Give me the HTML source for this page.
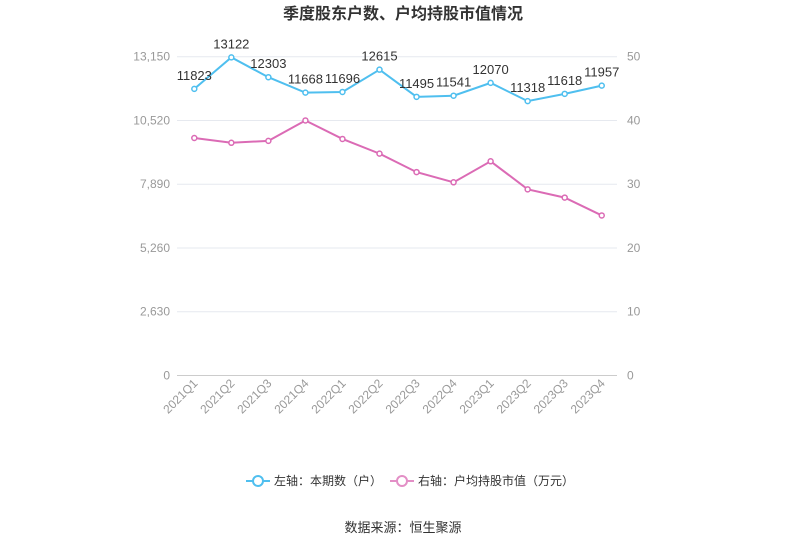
<!DOCTYPE html>
<html><head><meta charset="utf-8"><style>
body{margin:0;background:#fff;font-family:"Liberation Sans","Noto Sans CJK SC",sans-serif;}
svg text{font-family:"Liberation Sans","Noto Sans CJK SC",sans-serif;}
</style></head><body>
<svg id="c" width="807" height="546">
<text x="403" y="19" text-anchor="middle" font-size="16" font-weight="bold" fill="#333">季度股东户数、户均持股市值情况</text>
<g id="grid"></g><g id="axes"></g><g id="series"></g>
<g>
<g><line x1="246" y1="481" x2="270" y2="481" stroke="#4fbfef" stroke-width="2"/><circle cx="258" cy="481" r="5" fill="#fff" stroke="#4fbfef" stroke-width="2"/><text x="274" y="485" font-size="12" fill="#333">左轴：本期数（户）</text></g>
<g><line x1="390" y1="481" x2="414" y2="481" stroke="#e38fc6" stroke-width="2"/><circle cx="402" cy="481" r="5" fill="#fff" stroke="#e38fc6" stroke-width="2"/><text x="418" y="485" font-size="12" fill="#333">右轴：户均持股市值（万元）</text></g>
</g>
<text x="403" y="532" text-anchor="middle" font-size="13" fill="#333">数据来源：恒生聚源</text>
</svg>
<script>
const categories=["2021Q1","2021Q2","2021Q3","2021Q4","2022Q1","2022Q2","2022Q3","2022Q4","2023Q1","2023Q2","2023Q3","2023Q4"];
const holders=[11823,13122,12303,11668,11696,12615,11495,11541,12070,11318,11618,11957];
const avgValue=[37.25,36.5,36.8,40.0,37.1,34.8,31.9,30.3,33.6,29.2,27.9,25.1];
const leftTicks=[0,2630,5260,7890,10520,13150];
const rightTicks=[0,10,20,30,40,50];
const NS="http://www.w3.org/2000/svg";
const x0=194.3,dx=37.04,yB=375.5,yT=56.7;
const xs=i=>x0+i*dx;
const yL=v=>yB-(v/13150)*(yB-yT);
const yR=v=>yB-(v/50)*(yB-yT);
function mk(t,a,p){const e=document.createElementNS(NS,t);for(const k in a)e.setAttribute(k,a[k]);p.appendChild(e);return e;}
const grid=document.getElementById('grid'),axes=document.getElementById('axes'),ser=document.getElementById('series');
leftTicks.forEach((v,i)=>{
 const g=mk('line',{x1:177,x2:617,y1:yL(v),y2:yL(v),stroke:i==0?'#ccc':'#e6e9ef','stroke-width':1},grid);
 
 
 const t=mk('text',{x:170,y:yL(v)+4,'text-anchor':'end','font-size':12,fill:'#999'},axes);t.textContent=v.toLocaleString('en-US');
 
 
});
rightTicks.forEach(v=>{
 const t=mk('text',{x:627,y:yR(v)+4,'font-size':12,fill:'#999'},axes);t.textContent=v;
 
 
});
categories.forEach((c,i)=>{
 const t=mk('text',{x:xs(i)+4,y:384,'text-anchor':'end','font-size':12,fill:'#999',transform:`rotate(-45 ${xs(i)+4} 384)`},axes);t.textContent=c;
 
 
});
function line(vals,yf,col,name,labels){
 const p=mk('polyline',{points:vals.map((v,i)=>xs(i)+','+yf(v)).join(' '),fill:'none',stroke:col,'stroke-width':2},ser);
 
 
 vals.forEach((v,i)=>{
  const c=mk('circle',{cx:xs(i),cy:yf(v),r:2.5,fill:'#fff',stroke:col,'stroke-width':1.5},ser);
  
  
  if(labels){const t=mk('text',{x:xs(i),y:yf(v)-9,'text-anchor':'middle','font-size':13,fill:'#333'},ser);t.textContent=v;
  
  }
 });
}
line(avgValue,yR,'#db6bb5','avg-value',false);
line(holders,yL,'#4fbfef','holders',true);
</script>
</body></html>
